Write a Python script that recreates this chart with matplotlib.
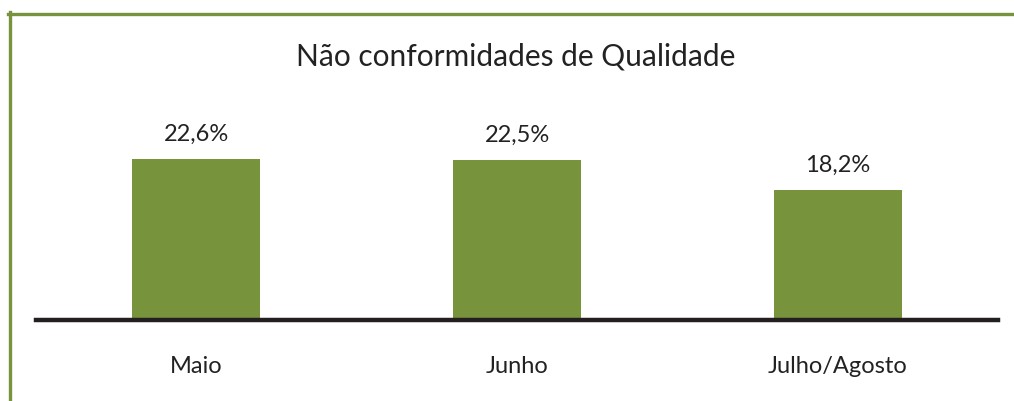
import matplotlib
matplotlib.use("Agg")
import matplotlib.pyplot as plt
from matplotlib.lines import Line2D

# data
categories = ["Maio", "Junho", "Julho/Agosto"]
values = [22.6, 22.5, 18.2]
labels = ["22,6%", "22,5%", "18,2%"]

green = "#77933c"
W, H = 1014, 401

plt.rcParams['font.family'] = ['Lato', 'DejaVu Sans']

fig = plt.figure(figsize=(W / 100, H / 100), dpi=100)
ax = fig.add_axes([36 / W, 81 / H, (998 - 36) / W, (320 - 35) / H])

x = range(len(categories))
ax.bar(x, values, width=0.4, color=green)
for i, v in enumerate(values):
    ax.text(i, v + 2.0, labels[i], ha="center", va="bottom", fontsize=17, color="#222222")

ax.set_xlim(-0.5, len(categories) - 0.5)
ax.set_ylim(0, 40)
ax.set_yticks([])
ax.set_xticks(list(x))
ax.set_xticklabels(categories, fontsize=17, color="#222222")
ax.tick_params(axis="x", length=0, pad=26)
for s in ["top", "right", "left"]:
    ax.spines[s].set_visible(False)
ax.spines["bottom"].set_linewidth(3.2)
ax.spines["bottom"].set_color("#231f20")

fig.text(516 / W, 1 - 56 / H, "Não conformidades de Qualidade", ha="center", va="center",
         fontsize=21.5, color="#222222")

# green frame (top + left)
fig.add_artist(Line2D([8 / W, 1], [1 - 13.5 / H, 1 - 13.5 / H], color=green, lw=2.4, transform=fig.transFigure))
fig.add_artist(Line2D([9.5 / W, 9.5 / W], [0, 1 - 12 / H], color=green, lw=2.4, transform=fig.transFigure))

fig.savefig("out.png", dpi=100)
